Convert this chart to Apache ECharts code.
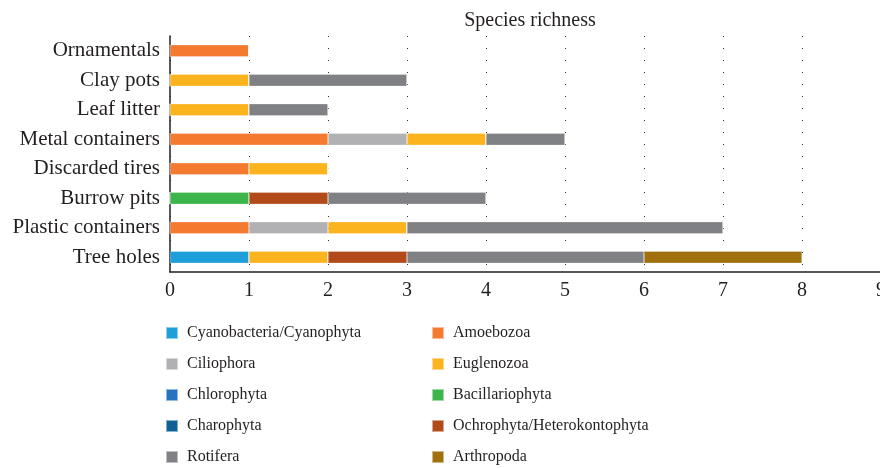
<!DOCTYPE html>
<html>
<head>
<meta charset="utf-8">
<script src="https://cdn.jsdelivr.net/npm/echarts@6/dist/echarts.min.js"></script>
<style>
  html, body { margin: 0; padding: 0; background: #fff; }
  #chart { width: 880px; height: 468px; }
</style>
</head>
<body>
<div id="chart"></div>
<script>
var habitats = ['Ornamentals', 'Clay pots', 'Leaf litter', 'Metal containers', 'Discarded tires', 'Burrow pits', 'Plastic containers', 'Tree holes'];
var xTicks = [0, 1, 2, 3, 4, 5, 6, 7, 8, 9];

// species counts per habitat, same order as habitats
var cyanobacteria = [0, 0, 0, 0, 0, 0, 0, 1];
var amoebozoa     = [1, 0, 0, 2, 1, 0, 1, 0];
var ciliophora    = [0, 0, 0, 1, 0, 0, 1, 0];
var euglenozoa    = [0, 1, 1, 1, 1, 0, 1, 1];
var chlorophyta   = [0, 0, 0, 0, 0, 0, 0, 0];
var bacillariophyta = [0, 0, 0, 0, 0, 1, 0, 0];
var charophyta    = [0, 0, 0, 0, 0, 0, 0, 0];
var ochrophyta    = [0, 0, 0, 0, 0, 1, 0, 1];
var rotifera      = [0, 2, 1, 1, 0, 2, 4, 3];
var arthropoda    = [0, 0, 0, 0, 0, 0, 0, 2];

var groups = [
    { name: 'Cyanobacteria/Cyanophyta', data: cyanobacteria, color: '#1f9fd9' },
    { name: 'Amoebozoa', data: amoebozoa, color: '#f47a30' },
    { name: 'Ciliophora', data: ciliophora, color: '#b1b1b3' },
    { name: 'Euglenozoa', data: euglenozoa, color: '#fbb41e' },
    { name: 'Chlorophyta', data: chlorophyta, color: '#2674bf' },
    { name: 'Bacillariophyta', data: bacillariophyta, color: '#3db54a' },
    { name: 'Charophyta', data: charophyta, color: '#0f6096' },
    { name: 'Ochrophyta/Heterokontophyta', data: ochrophyta, color: '#b24b19' },
    { name: 'Rotifera', data: rotifera, color: '#808184' },
    { name: 'Arthropoda', data: arthropoda, color: '#a0700f' }
];

var font = 'Liberation Serif';
var ink = '#231f20';

var myChart = echarts.init(document.getElementById('chart'));

var leftNames = [], rightNames = [];
groups.map(function (g, i) {
    if (i % 2 === 0) leftNames.push(g.name); else rightNames.push(g.name);
});

function makeLegend(names, left) {
    return {
        data: names,
        orient: 'vertical',
        left: left,
        top: 325,
        padding: 0,
        height: 143,
        itemWidth: 12,
        itemHeight: 12,
        itemGap: 15,
        icon: 'rect',
        textStyle: { fontFamily: font, fontSize: 16, color: ink, padding: [0, 0, 0, 4] }
    };
}

var option = {
    animation: false,
    title: {
        text: 'Species richness',
        left: 525,
        top: 6,
        textAlign: 'center',
        textStyle: { fontFamily: font, fontSize: 20, fontWeight: 'normal', color: ink }
    },
    legend: [makeLegend(leftNames, 165), makeLegend(rightNames, 431)],
    grid: {
        left: 170,
        top: 36,
        width: 711,
        height: 236,
        containLabel: false,
        outerBoundsMode: 'none'
    },
    xAxis: {
        type: 'value',
        min: 0,
        max: 9,
        interval: 1,
        axisLine: { show: true, lineStyle: { color: '#231f20', width: 1.5 } },
        axisTick: { show: false },
        axisLabel: {
            fontFamily: font, fontSize: 20, color: ink, margin: 9,
            formatter: function (v) { return xTicks.indexOf(v) >= 0 ? String(v) : ''; }
        },
        splitLine: { show: true, lineStyle: { color: '#333', width: 1, type: [1, 11] } }
    },
    yAxis: {
        type: 'category',
        data: habitats,
        inverse: true,
        axisLine: { show: true, lineStyle: { color: '#231f20', width: 1.5 } },
        axisTick: { show: false },
        axisLabel: { fontFamily: font, fontSize: 21, color: ink, margin: 10 }
    },
    series: groups.map(function (g) {
        return {
            name: g.name,
            type: 'bar',
            stack: 'richness',
            barWidth: 12,
            data: g.data,
            itemStyle: { color: g.color, borderColor: 'rgba(255,255,255,0.5)', borderWidth: 0.5 }
        };
    })
};

myChart.setOption(option);
</script>
</body>
</html>
